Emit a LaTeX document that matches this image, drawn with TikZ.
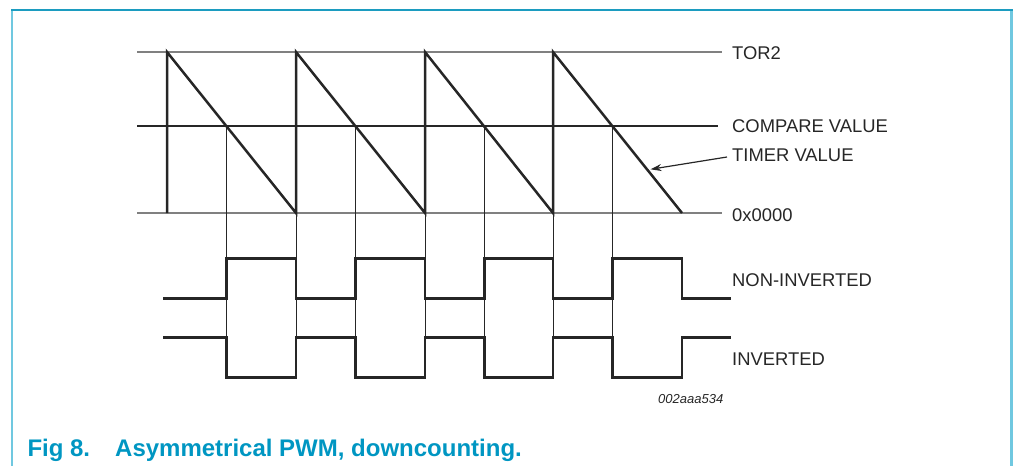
\documentclass[tikz,border=0pt]{standalone}
\usepackage{fontspec}
\setmainfont{Liberation Sans}
\usetikzlibrary{arrows.meta}
\definecolor{frametop}{RGB}{28,156,192}
\definecolor{frameside}{RGB}{112,200,224}
\definecolor{capblue}{RGB}{0,150,194}
\tikzset{
  level/.style={draw=black!50, line width=1.5pt},
  wave/.style={draw=black!85, line width=2.5pt, line join=miter},
  guide/.style={draw=black!85, line width=1pt},
  lbl/.style={anchor=base west, inner sep=0pt, font=\fontsize{18.4}{18}\selectfont, text=black!85},
  captxt/.style={anchor=base west, inner sep=0pt, font=\fontsize{24}{24}\selectfont\bfseries, text=capblue},
}
\begin{document}
\begin{tikzpicture}[x=1pt,y=-1pt]
\useasboundingbox (0,0) rectangle (1013,466);
% frame
\draw[frameside, line width=2pt] (12,466) -- (12,9.5);
\draw[frameside, line width=2.5pt] (1011.5,9.5) -- (1011.5,466);
\draw[frametop, line width=2pt] (11,9.5) -- (1012.5,9.5);

% labels
\node[lbl] (tor) at (732,59.3) {TOR2};
\node[lbl] (cmp) at (732,132.3) {COMPARE VALUE};
\node[lbl] (tim) at (732,161) {TIMER VALUE};
\node[lbl] (zero) at (732,221.7) {0x0000};
\node[lbl] (non) at (732,286) {NON-INVERTED};
\node[lbl] (inv) at (732,365) {INVERTED};
\node[anchor=base west, inner sep=0pt, font=\fontsize{13}{13}\selectfont\itshape, text=black!85] (code) at (658,403.3) {002aaa534};
\node[captxt] (fig) at (27.3,456) {Fig 8.};
\node[captxt] (title) at (115,456) {Asymmetrical PWM, downcounting.};

% level lines
\draw[level] (137,52) -- (721.5,52);
\draw[level] (137,213) -- (721.5,213);

% guides
\foreach \x in {226.3,355.3,484.3,612.3} \draw[guide] (\x,126) -- (\x,377.3);
\foreach \x in {296,425,553} \draw[guide] (\x,213) -- (\x,377.3);

% compare line
\draw[wave] (137,126) -- (718,126);

% sawtooth
\draw[wave] (167,213) -- (167,52) -- (296,213) -- (296,52) -- (425,213) -- (425,52) -- (553,213) -- (553,52) -- (682,213);

% non-inverted
\draw[wave] (163,298.3) -- (226.3,298.3) -- (226.3,258.5) -- (296,258.5) -- (296,298.3)
  -- (355.3,298.3) -- (355.3,258.5) -- (425,258.5) -- (425,298.3)
  -- (484.3,298.3) -- (484.3,258.5) -- (553,258.5) -- (553,298.3)
  -- (612.3,298.3) -- (612.3,258.5) -- (682,258.5) -- (682,298.3) -- (731,298.3);
% inverted
\draw[wave] (163,337.3) -- (226.3,337.3) -- (226.3,377.3) -- (296,377.3) -- (296,337.3)
  -- (355.3,337.3) -- (355.3,377.3) -- (425,377.3) -- (425,337.3)
  -- (484.3,337.3) -- (484.3,377.3) -- (553,377.3) -- (553,337.3)
  -- (612.3,337.3) -- (612.3,377.3) -- (682,377.3) -- (682,337.3) -- (731,337.3);

% arrow
\coordinate (tip) at (650.5,169.3);
\draw[black!85, line width=1.2pt, -{Stealth[length=11pt,width=7pt]}] (tim.west |- 0,157) ++(-5,0) -- (tip);
\end{tikzpicture}
\end{document}
